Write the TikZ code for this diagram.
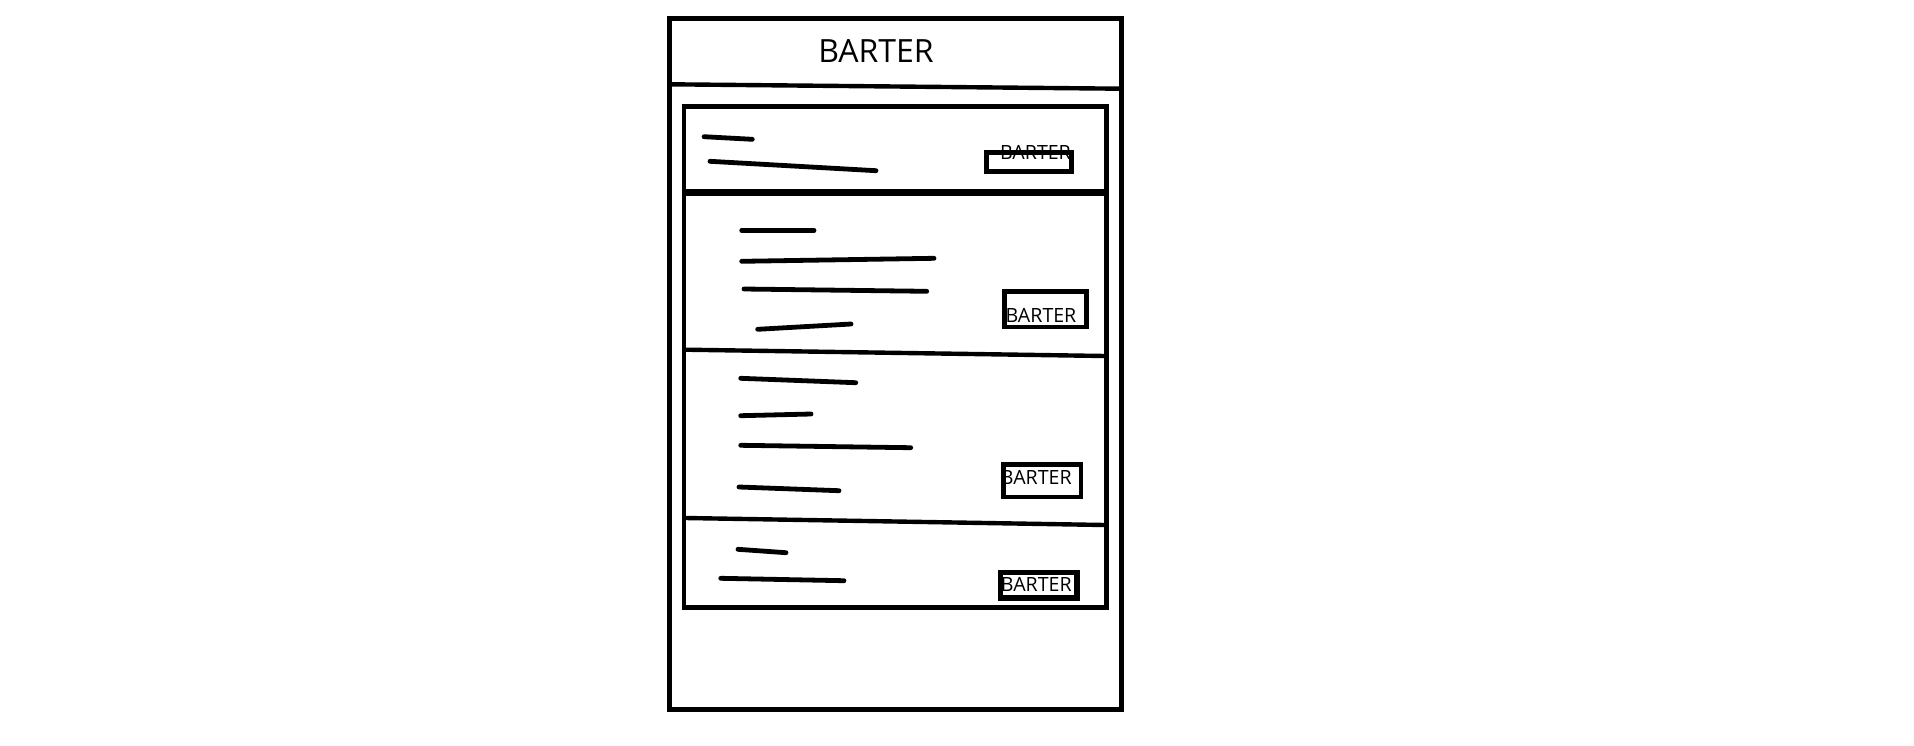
\documentclass[tikz,border=0pt]{standalone}
\usepackage{fontspec}
\setmainfont{Open Sans}
\begin{document}
\begin{tikzpicture}[x=0.5pt,y=-0.5pt,
  frame/.style={draw=black,line width=2.4pt},
  divider/.style={draw=black,line width=2.2pt},
  scribble/.style={draw=black,line width=2.4pt,line cap=round},
  btnlabel/.style={inner sep=0pt,font=\fontsize{9.8pt}{11pt}\selectfont},
  btnbox/.style={draw=black,line width=2.4pt,inner sep=0pt,fill=none}]
\useasboundingbox (0,0) rectangle (1914,745);
% outer frame
\draw[frame] (669.7,18.3) coordinate (o1) rectangle (1121.3,709.5) coordinate (o2);
\node[inner sep=0pt,font=\fontsize{16pt}{19pt}\selectfont] (title) at (876,51.5) {BARTER};
\draw[divider] (670,84.3) coordinate (t1) -- (1121,88.7) coordinate (t2);
% inner frame
\draw[frame,line width=2.3pt] (684,106.7) coordinate (i1) rectangle (1106.3,607.3) coordinate (i2);
% row dividers
\draw[divider,line width=3.3pt] (686,192.4) coordinate (d1a) -- (1105,192.4) coordinate (d1b);
\draw[divider] (686,349.7) coordinate (d2a) -- (1105,356) coordinate (d2b);
\draw[divider] (686,518) coordinate (d3a) -- (1105,525) coordinate (d3b);
% row 1
\draw[scribble] (704,136.7) -- (752.3,139.3);
\draw[scribble] (710,161.3) -- (876,170.7);
\node[btnlabel] (l1) at (1035.5,152.8) {BARTER};
\node[btnbox,minimum width=42.7pt,minimum height=9.7pt] (b1) at (1029,162) {};
% row 2
\draw[scribble] (741.7,230.3) -- (814,230.3);
\draw[scribble] (741.7,261.3) -- (934,258.3);
\draw[scribble] (744,289) -- (926.7,291.3);
\draw[scribble] (757.7,329.3) -- (851,324);
\node[btnlabel] (l2) at (1041,315) {BARTER};
\node[btnbox,minimum width=40.8pt,minimum height=17.85pt] (b2) at (1045.5,309.2) {};
% row 3
\draw[scribble] (740.7,378.3) -- (855.7,382.7);
\draw[scribble] (740.7,415.7) -- (811,414);
\draw[scribble] (740.7,445.3) -- (910.7,447.7);
\draw[scribble] (739,487) -- (839,490.7);
\node[btnlabel] (l3) at (1036.3,477) {BARTER};
\node[btnbox,minimum width=38.65pt,minimum height=16.15pt] (b3) at (1042.4,480.9) {};
% row 4
\draw[scribble] (738,549.3) -- (786,552.7);
\draw[scribble] (720.7,578.3) -- (844,580.7);
\node[btnlabel] (l4) at (1036.3,584.8) {BARTER};
\node[btnbox,line width=2.8pt,minimum width=38.2pt,minimum height=12.7pt] (b4) at (1038.5,585) {};
\end{tikzpicture}
\end{document}
